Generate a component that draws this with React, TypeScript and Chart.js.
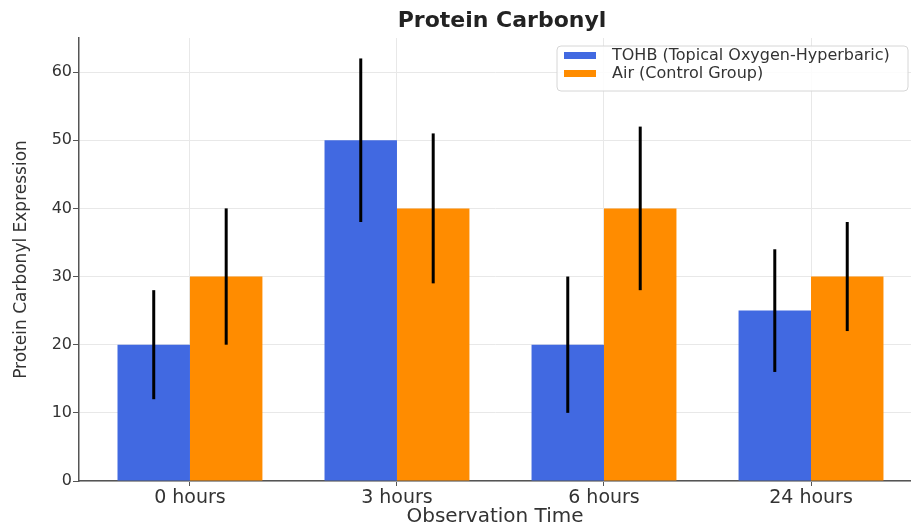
import React, { useEffect, useRef } from "react";
import { Chart, registerables } from "chart.js";

Chart.register(...registerables);

const categories = ["0 hours", "3 hours", "6 hours", "24 hours"];
const tohbValues = [20, 50, 20, 25];
const tohbErrors = [8, 12, 10, 9];
const airValues = [30, 40, 40, 30];
const airErrors = [10, 11, 12, 8];
const seriesNames = ["TOHB (Topical Oxygen-Hyperbaric)", "Air (Control Group)"];
const yTicks = [0, 10, 20, 30, 40, 50, 60];

const BLUE = "#4169E1";
const ORANGE = "#FF8C00";
const FONT = "'DejaVu Sans', sans-serif";

const errorBarPlugin = {
  id: "errorBars",
  afterDatasetsDraw(chart: any) {
    const ctx = chart.ctx;
    const yScale = chart.scales.y;
    chart.data.datasets.forEach((ds: any, di: number) => {
      const meta = chart.getDatasetMeta(di);
      const errs = ds.errors as number[];
      meta.data.forEach((bar: any, i: number) => {
        const v = ds.data[i].y;
        const e = errs[i];
        ctx.save();
        ctx.strokeStyle = "#000";
        ctx.lineWidth = 3;
        ctx.beginPath();
        ctx.moveTo(bar.x, yScale.getPixelForValue(v - e));
        ctx.lineTo(bar.x, yScale.getPixelForValue(v + e));
        ctx.stroke();
        ctx.restore();
      });
    });
  },
};

const overlayPlugin = {
  id: "overlay",
  afterDraw(chart: any) {
    const ctx = chart.ctx;
    ctx.save();
    // title
    ctx.fillStyle = "#222";
    ctx.font = `bold 22px ${FONT}`;
    ctx.textAlign = "center";
    ctx.textBaseline = "middle";
    ctx.fillText("Protein Carbonyl", 502, 21);
    // legend
    const lx = 557, ly = 46, lw = 351, lh = 45, r = 4;
    ctx.fillStyle = "rgba(255,255,255,0.85)";
    ctx.strokeStyle = "#d6d6d6";
    ctx.lineWidth = 1;
    ctx.beginPath();
    ctx.moveTo(lx + r, ly);
    ctx.lineTo(lx + lw - r, ly);
    ctx.arcTo(lx + lw, ly, lx + lw, ly + r, r);
    ctx.lineTo(lx + lw, ly + lh - r);
    ctx.arcTo(lx + lw, ly + lh, lx + lw - r, ly + lh, r);
    ctx.lineTo(lx + r, ly + lh);
    ctx.arcTo(lx, ly + lh, lx, ly + lh - r, r);
    ctx.lineTo(lx, ly + r);
    ctx.arcTo(lx, ly, lx + r, ly, r);
    ctx.closePath();
    ctx.fill();
    ctx.stroke();
    const colors = [BLUE, ORANGE];
    const rows = [56, 74];
    ctx.font = `16px ${FONT}`;
    ctx.textAlign = "left";
    ctx.textBaseline = "middle";
    seriesNames.forEach((name, i) => {
      ctx.fillStyle = colors[i];
      ctx.fillRect(564, rows[i] - 4, 32, 7);
      ctx.fillStyle = "#333";
      ctx.fillText(name, 612, rows[i]);
    });
    ctx.restore();
  },
};

export default function App() {
  const ref = useRef<HTMLCanvasElement>(null);
  useEffect(() => {
    if (!ref.current) return;
    const chart = new Chart(ref.current, {
      type: "bar",
      data: {
        datasets: [
          {
            label: seriesNames[0],
            data: tohbValues.map((y, i) => ({ x: i, y })),
            errors: tohbErrors,
            backgroundColor: BLUE,
            borderWidth: 0,
            categoryPercentage: 0.7,
            barPercentage: 1,
          } as any,
          {
            label: seriesNames[1],
            data: airValues.map((y, i) => ({ x: i, y })),
            errors: airErrors,
            backgroundColor: ORANGE,
            borderWidth: 0,
            categoryPercentage: 0.7,
            barPercentage: 1,
          } as any,
        ],
      },
      options: {
        animation: false,
        responsive: true,
        maintainAspectRatio: false,
        layout: { padding: { top: 38, left: 0, right: 0, bottom: 0 } },
        plugins: {
          legend: { display: false },
          title: { display: false },
          tooltip: { enabled: false },
        },
        scales: {
          x: {
            type: "linear",
            offset: false,
            min: -0.536,
            max: 3.483,
            afterBuildTicks: (scale: any) => {
              scale.ticks = categories.map((_, i) => ({ value: i }));
            },
            afterFit: (scale: any) => {
              scale.height = 46;
            },
            ticks: {
              callback: (v: any) => categories[v as number] ?? "",
              font: { family: FONT, size: 19 },
              color: "#333",
              padding: 1,
              maxRotation: 0,
              autoSkip: false,
            },
            grid: {
              offset: false,
              color: "#e8e8e8",
              tickColor: "#555",
              tickLength: 5,
              drawTicks: true,
            },
            border: { color: "#555", width: 1.5 },
            title: {
              display: true,
              text: "Observation Time",
              font: { family: FONT, size: 20, lineHeight: 1 },
              color: "#333",
              padding: { top: 0, bottom: 0 },
            },
          },
          y: {
            min: 0,
            max: 65,
            afterBuildTicks: (scale: any) => {
              scale.ticks = yTicks.map((v) => ({ value: v }));
            },
            afterFit: (scale: any) => {
              scale.width = 79;
            },
            ticks: {
              font: { family: FONT, size: 16 },
              color: "#333",
              padding: 1,
            },
            grid: {
              color: "#e8e8e8",
              tickColor: "#555",
              tickLength: 6,
            },
            border: { color: "#555", width: 1.5 },
            title: {
              display: true,
              text: "Protein Carbonyl Expression",
              font: { family: FONT, size: 17, lineHeight: 1 },
              color: "#333",
              padding: { top: 13, bottom: 0 },
            },
          },
        },
      },
      plugins: [errorBarPlugin, overlayPlugin],
    } as any);
    return () => chart.destroy();
  }, []);
  return (
    <div style={{ position: "fixed", left: 0, top: 0, width: 911, height: 527, background: "#fff" }}>
      <canvas ref={ref} />
    </div>
  );
}
